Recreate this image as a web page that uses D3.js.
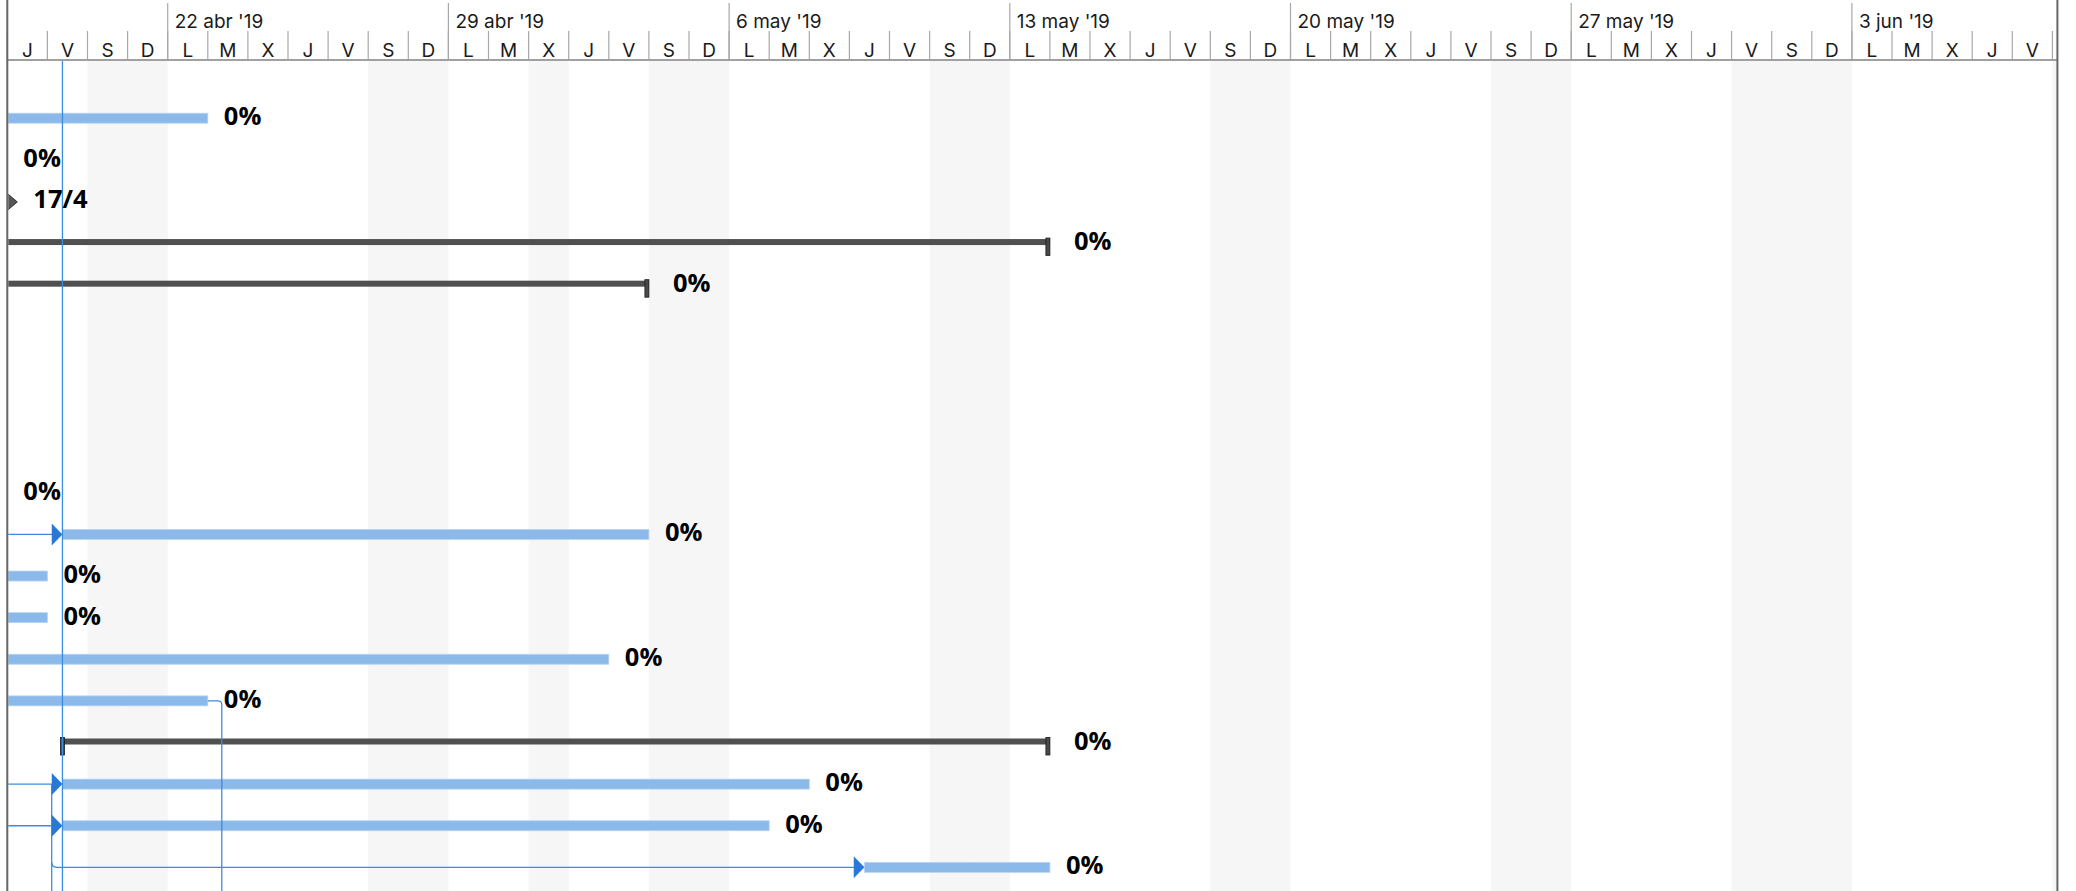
<!DOCTYPE html>
<html><head><meta charset="utf-8">
<script src="https://cdn.jsdelivr.net/npm/d3@7"></script>
<style>html,body{margin:0;padding:0;background:#fff;overflow:hidden}</style>
</head><body><svg id="c" width="2076" height="891"></svg>
<script>
// ---------------- data ----------------
const viewStart = "2019-04-18T00:00";
const viewEnd = "2019-06-08T03:00";
const weekStarts = ["2019-04-22","2019-04-29","2019-05-06","2019-05-13","2019-05-20","2019-05-27","2019-06-03"];
const weekLabels = ["22 abr '19","29 abr '19","6 may '19","13 may '19","20 may '19","27 may '19","3 jun '19"];
const dayLetters = ["D","L","M","X","J","V","S"]; // indexed by weekday (0 = domingo)
const holidays = ["2019-05-01","2019-05-31"];
const todayDate = "2019-04-19T09:00";

const rowTypes  = ["task","task","milestone","summary","summary","","","","","task","task","task","task","task","task","summary","task","task","task"];
const rowStarts = ["2019-04-15","2019-04-15","2019-04-18","2019-04-15","2019-04-15",null,null,null,null,"2019-04-15","2019-04-19T09:00","2019-04-15","2019-04-15","2019-04-15","2019-04-15","2019-04-19T09:00","2019-04-19T09:00","2019-04-19T09:00","2019-05-09T09:00"];
const rowEnds   = ["2019-04-23","2019-04-18","2019-04-18","2019-05-14","2019-05-04",null,null,null,null,"2019-04-18","2019-05-04","2019-04-19","2019-04-19","2019-05-03","2019-04-23","2019-05-14","2019-05-08","2019-05-07","2019-05-14"];
const rowLabels = ["0%","0%","17/4","0%","0%","","","","","0%","0%","0%","0%","0%","0%","0%","0%","0%","0%"];

// links
const linksFromLeft = [10, 16, 17];          // predecessor finishes before the visible range
const linksDown = [14];                       // successor below the visible rows
const linkUpFinish = "2019-04-19";            // predecessor below the visible rows
const linkUpTargets = [16, 17, 18];

// ---------------- chart ----------------
const W = 2076, H = 891;
const parse = s => new Date(s.length > 10 ? s : s + "T00:00");
const svg = d3.select("#c");
const dayW = 40.1;
const x0 = 7.3;
const x = d3.scaleTime().domain([parse(viewStart), parse(viewEnd)])
  .range([x0, x0 + (parse(viewEnd) - parse(viewStart)) / 864e5 * dayW]);
const rowStep = 41.62, row0 = 118.2;
const y = d3.scaleBand().domain(d3.range(rowTypes.length))
  .range([row0 - rowStep/2, row0 - rowStep/2 + rowStep*rowTypes.length]).padding(0);
const cy = i => y(i) + y.bandwidth()/2;

const headerBottom = 60;
const rightX = x.range()[1];
const hdrFont = "Inter, 'Open Sans', sans-serif";

svg.append("defs").append("clipPath").attr("id","body")
  .append("rect").attr("x", x0 + 1).attr("y", headerBottom + 1).attr("width", rightX - x0 - 1).attr("height", H);

const days = d3.timeDay.range(d3.timeDay.floor(parse(viewStart)), parse(viewEnd));
const holidaySet = new Set(holidays);
const fmt = d3.timeFormat("%Y-%m-%d");

// shading for non-working days
const body = svg.append("g").attr("clip-path","url(#body)");
body.selectAll("rect.nw").data(days.filter(d => d.getDay()===0 || d.getDay()===6 || holidaySet.has(fmt(d))))
  .join("rect").attr("class","nw")
  .attr("x", d => x(d)).attr("width", d => x(d3.timeDay.offset(d,1)) - x(d))
  .attr("y", headerBottom + 1).attr("height", H).attr("fill", "#f6f6f6");

// header
const hdr = svg.append("g");
hdr.selectAll("line.wk").data(weekStarts).join("line")
  .attr("x1", d => x(parse(d))).attr("x2", d => x(parse(d)))
  .attr("y1", 3).attr("y2", headerBottom).attr("stroke", "#a8a8a8").attr("stroke-width", 1.2);
hdr.selectAll("line.dy").data(days).join("line")
  .attr("x1", d => x(d)).attr("x2", d => x(d))
  .attr("y1", 31).attr("y2", headerBottom).attr("stroke", "#a8a8a8").attr("stroke-width", 1.2);
hdr.selectAll("text.dy").data(days.filter(d => x(d3.timeDay.offset(d,1)) <= rightX + 1)).join("text")
  .attr("x", d => (x(d) + x(d3.timeDay.offset(d,1))) / 2).attr("y", 56.5)
  .attr("text-anchor", "middle").attr("font-family", hdrFont).attr("font-size", 19).attr("fill", "#1a1a1a")
  .text(d => dayLetters[d.getDay()]);
hdr.selectAll("text.wk").data(weekStarts).join("text")
  .attr("x", (d) => x(parse(d)) + 7).attr("y", 28)
  .attr("font-family", hdrFont).attr("font-size", 19).attr("fill", "#1a1a1a")
  .text((d,i) => weekLabels[i]);
svg.append("line").attr("x1", x0).attr("x2", rightX).attr("y1", headerBottom).attr("y2", headerBottom)
  .attr("stroke", "#a0a0a0").attr("stroke-width", 2);

// bars
const rows = d3.range(rowTypes.length).filter(i => rowTypes[i]);
const blue = "#8ab9ea", dark = "#505050";

rows.filter(i => rowTypes[i] === "task").forEach(i => {
  const xs = x(parse(rowStarts[i])), xe = x(parse(rowEnds[i]));
  if (xe > xs) body.append("rect").attr("x", xs).attr("y", cy(i) - 5).attr("width", xe - xs).attr("height", 10)
    .attr("fill", blue).attr("stroke", "#b9d5f3").attr("stroke-width", 0.8);
});
rows.filter(i => rowTypes[i] === "summary").forEach(i => {
  const xs = x(parse(rowStarts[i])), xe = x(parse(rowEnds[i]));
  body.append("rect").attr("x", xs).attr("y", cy(i) - 4).attr("width", xe - xs).attr("height", 6).attr("fill", dark);
  [[xs - 2], [xe - 4]].forEach(([cx]) => {
    body.append("rect").attr("x", cx).attr("y", cy(i) - 5).attr("width", 4).attr("height", 17.5)
      .attr("fill", "#4a4a4a").attr("stroke", "#1a1a1a").attr("stroke-width", 0.8);
  });
});
rows.filter(i => rowTypes[i] === "milestone").forEach(i => {
  const xm = x(parse(rowEnds[i])), c = cy(i) + 0.5;
  body.append("path").attr("d", `M${xm-10},${c} L${xm},${c-8.5} L${xm+10},${c} L${xm},${c+8.5} Z`).attr("fill", "#555").attr("stroke","#333");
});

// links
const linkColor = "#3f8ae0", arrowColor = "#2878d6";
const lg = svg.append("g").attr("clip-path","url(#body)").attr("fill","none").attr("stroke", linkColor).attr("stroke-width", 1.3);
function arrow(i) {
  const xt = x(parse(rowStarts[i])), c = cy(i);
  svg.append("path").attr("clip-path","url(#body)")
    .attr("d", `M${xt},${c} L${xt-10.7},${c-11} L${xt-10.7},${c+11} Z`).attr("fill", arrowColor);
}
linksFromLeft.forEach(i => {
  lg.append("line").attr("x1", x0).attr("x2", x(parse(rowStarts[i])) - 10).attr("y1", cy(i)).attr("y2", cy(i));
});
linksDown.forEach(i => {
  const xe = x(parse(rowEnds[i])), c = cy(i), xv = xe + 14, r = 4;
  lg.append("path").attr("d", `M${xe},${c} H${xv - r} Q${xv},${c} ${xv},${c + r} V${H}`);
});
{
  const xv = x(parse(linkUpFinish)) + 4.3, r = 5;
  const top = cy(d3.min(linkUpTargets));
  lg.append("line").attr("x1", xv).attr("x2", xv).attr("y1", top).attr("y2", H);
  linkUpTargets.forEach(i => {
    const xt = x(parse(rowStarts[i])) - 10, c = cy(i);
    if (xt - xv > 20) lg.append("path").attr("d", `M${xv},${c - r} Q${xv},${c} ${xv + r},${c} H${xt}`);
  });
}
[...linksFromLeft, ...linkUpTargets].filter((v,k,a) => a.indexOf(v) === k).forEach(arrow);

// today line
svg.append("line").attr("x1", x(parse(todayDate))).attr("x2", x(parse(todayDate)))
  .attr("y1", headerBottom + 1).attr("y2", H).attr("stroke", "#3a8de4").attr("stroke-width", 1.3);

// labels
rows.forEach(i => {
  const t = rowTypes[i];
  const xe = x(parse(rowEnds[i]));
  const off = t === "summary" ? 24 : (t === "milestone" ? 26 : 16);
  svg.append("text").attr("x", xe + off).attr("y", cy(i) + 7)
    .attr("font-family", "Open Sans").attr("font-weight", 700).attr("font-size", 25.5).attr("fill", "#000")
    .text(rowLabels[i]);
});

// borders
svg.append("line").attr("x1", x0).attr("x2", x0).attr("y1", 0).attr("y2", H).attr("stroke", "#666").attr("stroke-width", 2);
svg.append("line").attr("x1", rightX).attr("x2", rightX).attr("y1", 0).attr("y2", H).attr("stroke", "#666").attr("stroke-width", 2);
</script></body></html>
